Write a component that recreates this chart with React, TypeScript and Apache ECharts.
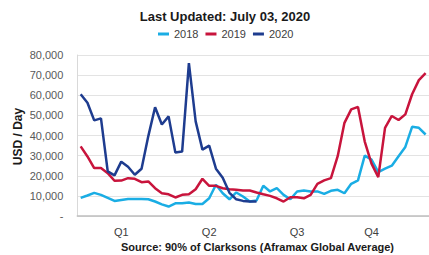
import React, { useEffect, useRef } from "react";
import * as echarts from "echarts";

const weeks: string[] = Array.from({ length: 52 }, (_, i) => `W${i + 1}`);

const quarterWeeks: string[] = ["W7", "W20", "W33", "W44"];
const quarterLabels: string[] = ["Q1", "Q2", "Q3", "Q4"];

const yTicks: number[] = [0, 10000, 20000, 30000, 40000, 50000, 60000, 70000, 80000];

const seriesNames: string[] = ["2018", "2019", "2020"];

const rates2018: number[] = [
  9000, 10200, 11500, 10500, 9000, 7500, 8000, 8500, 8500, 8500,
  8300, 7200, 5800, 4700, 6300, 6300, 6700, 6000, 6000, 8800,
  15500, 11300, 8300, 11700, 9700, 7200, 7700, 15000, 12200, 13800,
  10500, 8300, 12200, 12700, 12200, 12200, 11000, 12500, 13000, 11300,
  16000, 17700, 30000, 28000, 21800, 23500, 25000, 29700, 34300, 44300,
  43800, 40500,
];

const rates2019: number[] = [
  34600, 29600, 23800, 23800, 21300, 17500, 17600, 18800, 18500, 16800,
  17200, 13800, 11300, 10800, 9200, 10500, 10800, 13300, 18500, 15000,
  15000, 13800, 13300, 13000, 12700, 12700, 11700, 10800, 10000, 8800,
  7200, 9300, 9300, 8800, 10500, 16000, 17700, 18800, 29700, 46300,
  53000, 54200, 37000, 26000, 19300, 43800, 49700, 47700, 50500, 60500,
  67500, 71000,
];

const rates2020: (number | null)[] = [
  60500, 56300, 47500, 48500, 22200, 20200, 27000, 24500, 20500, 23500,
  39700, 54000, 45500, 49500, 31500, 32000, 76000, 47000, 33000, 35000,
  23500, 19000, 11500, 8300, 7500, 7200, 7200,
];

const colors: string[] = ["#1AADE4", "#C8143C", "#1E3C8F"];

const FONT = "'Liberation Sans', Arial, Helvetica, sans-serif";

export default function App() {
  const ref = useRef<HTMLDivElement>(null);

  useEffect(() => {
    if (!ref.current) return;
    const chart = echarts.init(ref.current, undefined, { renderer: "svg" });
    const labelByWeek: Record<string, string> = {};
    quarterWeeks.forEach((w, k) => {
      labelByWeek[w] = quarterLabels[k];
    });
    const datasets = [rates2018, rates2019, rates2020];

    chart.setOption({
      animation: false,
      backgroundColor: "#ffffff",
      textStyle: { fontFamily: FONT },
      title: {
        text: "Last Updated: July 03, 2020",
        left: 225,
        textAlign: "center",
        top: 9.5,
        padding: 0,
        textStyle: { fontFamily: FONT, fontSize: 13, fontWeight: "bold", color: "#1a1a1a" },
      },
      legend: {
        data: seriesNames,
        left: 158,
        top: 28.5,
        padding: 0,
        itemWidth: 11,
        itemHeight: 3,
        itemGap: 7,
        icon: "rect",
        textStyle: { fontFamily: FONT, fontSize: 11, color: "#404040" },
      },
      grid: { left: 77.3, top: 55, width: 360, height: 161 },
      xAxis: {
        type: "category",
        data: weeks,
        boundaryGap: true,
        axisLine: { show: true, lineStyle: { color: "#BFBFBF", width: 1.5 } },
        axisTick: { show: false },
        axisLabel: {
          interval: 0,
          formatter: (v: string) => labelByWeek[v] ?? "",
          margin: 10,
          fontFamily: FONT,
          fontSize: 11,
          color: "#404040",
        },
      },
      yAxis: {
        type: "value",
        min: yTicks[0],
        max: yTicks[yTicks.length - 1],
        interval: yTicks[1] - yTicks[0],
        axisLine: { show: true, lineStyle: { color: "#D9D9D9", width: 1 } },
        axisTick: { show: false },
        splitLine: { show: true, lineStyle: { color: "#E3E3E3", width: 1 } },
        axisLabel: {
          margin: 14,
          fontFamily: FONT,
          fontSize: 11,
          color: "#595959",
          formatter: (v: number) => (v === 0 ? "-" : v.toLocaleString("en-US")),
        },
      },
      graphic: [
        {
          type: "text",
          x: 18,
          y: 136.5,
          rotation: Math.PI / 2,
          style: {
            text: "USD / Day",
            fontFamily: FONT,
            fontSize: 12,
            fontWeight: "bold",
            fill: "#1a1a1a",
            textAlign: "center",
            textVerticalAlign: "middle",
          },
        },
        {
          type: "text",
          x: 257.5,
          y: 247,
          style: {
            text: "Source: 90% of Clarksons (Aframax Global Average)",
            fontFamily: FONT,
            fontSize: 11,
            fontWeight: "bold",
            fill: "#1a1a1a",
            textAlign: "center",
            textVerticalAlign: "middle",
          },
        },
      ],
      series: seriesNames.map((name, k) => ({
        name,
        type: "line",
        data: datasets[k],
        showSymbol: false,
        symbol: "none",
        smooth: false,
        color: colors[k],
        lineStyle: { width: 2.5, color: colors[k] },
        z: 2 + k,
      })),
    });

    return () => {
      chart.dispose();
    };
  }, []);

  return (
    <div
      ref={ref}
      style={{ position: "fixed", left: 0, top: 0, width: 429, height: 255, background: "#fff" }}
    />
  );
}
